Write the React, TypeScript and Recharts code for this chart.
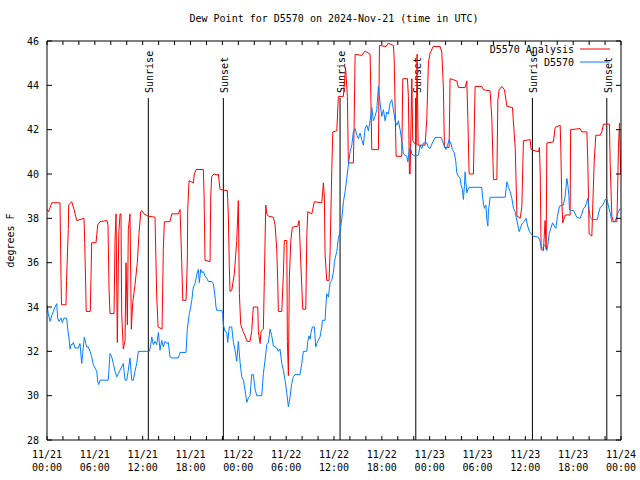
import React from 'react';
import { LineChart, Line, XAxis, YAxis, ReferenceLine, Legend } from 'recharts';

document.body.style.margin = '0';

const FONT = '"DejaVu Sans Mono", monospace';

const title = 'Dew Point for D5570 on 2024-Nov-21 (time in UTC)';
const yTitle = 'degrees F';
const analysisName = 'D5570 Analysis';
const stationName = 'D5570';

// x is hours since 2024-11-21 00:00 UTC
const tickHours = [0, 6, 12, 18, 24, 30, 36, 42, 48, 54, 60, 66, 72];
const tickDates = ['11/21', '11/21', '11/21', '11/21', '11/22', '11/22', '11/22', '11/22', '11/23', '11/23', '11/23', '11/23', '11/24'];
const tickTimes = ['00:00', '06:00', '12:00', '18:00', '00:00', '06:00', '12:00', '18:00', '00:00', '06:00', '12:00', '18:00', '00:00'];
const minorTickHours = [0, 2, 4, 6, 8, 10, 12, 14, 16, 18, 20, 22, 24, 26, 28, 30, 32, 34, 36, 38, 40, 42, 44, 46, 48, 50, 52, 54, 56, 58, 60, 62, 64, 66, 68, 70, 72];
const yTicks = [28, 30, 32, 34, 36, 38, 40, 42, 44, 46];

const sunNames = ['Sunrise', 'Sunset', 'Sunrise', 'Sunset', 'Sunrise', 'Sunset'];
const sunHours = [12.71, 22.12, 36.76, 46.26, 60.89, 70.22];

// [hour, dew point F]
const analysisSeries: [number, number][] = [
  [0, 38.4], [0.2, 38.3], [0.6, 38.7], [1.63, 38.7], [1.76, 35.3], [1.82, 34.1], [2.38, 34.1], [2.45, 35.2], [2.67, 37.5], [2.72, 38.6],
  [3.1, 38.75], [3.39, 38.4], [3.73, 37.9], [4.64, 38.0], [4.73, 36.9], [4.86, 34.85], [4.92, 33.8], [5.43, 33.8], [5.61, 36.9], [6.15, 36.9],
  [6.36, 37.7], [6.65, 37.85], [7.53, 37.9], [7.65, 37.7], [7.78, 34.85], [7.9, 33.7], [8.41, 33.7], [8.53, 37.0], [8.66, 38.2], [8.82, 32.4],
  [9.0, 37.3], [9.16, 38.2], [9.28, 38.2], [9.37, 33.7], [9.57, 32.1], [9.79, 32.5], [9.91, 36.0], [10.08, 33.2], [10.2, 37.5], [10.41, 38.2],
  [10.58, 33.0], [10.75, 34.2], [11.04, 35.0], [11.33, 36.0], [11.54, 37.3], [11.76, 38.3], [11.92, 38.35], [12.17, 38.2], [12.71, 38.1], [13.55, 38.05],
  [13.76, 34.5], [13.93, 33.1], [14.43, 33.0], [14.59, 36.6], [14.72, 37.85], [15.43, 37.85], [15.65, 38.2], [16.47, 38.2], [16.69, 38.4], [16.9, 36.0],
  [17.03, 34.3], [17.44, 34.3], [17.6, 36.0], [17.65, 38.4], [17.82, 39.7], [18.36, 39.6], [18.48, 40.0], [18.7, 40.2], [19.61, 40.2], [19.7, 39.1],
  [19.82, 36.1], [20.45, 36.05], [20.54, 39.0], [20.66, 39.9], [20.95, 40.0], [21.37, 39.95], [21.49, 40.0], [21.71, 39.3], [22.62, 39.25], [22.75, 38.1],
  [22.87, 35.8], [22.96, 34.7], [23.17, 34.75], [23.5, 35.5], [23.8, 37.0], [24.0, 38.8], [24.13, 34.6], [24.3, 33.2], [24.6, 32.9], [24.84, 32.7],
  [25.1, 32.45], [25.47, 32.45], [25.68, 32.9], [25.88, 34.0], [26.44, 34.0], [26.51, 32.9], [26.73, 32.35], [26.85, 32.9], [27.14, 33.0], [27.26, 35.2],
  [27.44, 38.6], [27.57, 38.2], [27.77, 38.1], [28.39, 38.05], [28.61, 37.7], [28.82, 36.6], [28.95, 35.05], [29.02, 33.8], [29.45, 33.8], [29.65, 35.5],
  [29.77, 37.0], [30.08, 37.0], [30.15, 32.45], [30.28, 30.9], [30.4, 35.3], [30.58, 37.0], [30.78, 37.6], [31.46, 37.65], [31.62, 37.9], [31.96, 34.9],
  [32.08, 33.9], [32.46, 33.9], [32.59, 37.2], [32.71, 38.3], [33.21, 38.2], [33.54, 38.75], [34.47, 38.7], [34.67, 39.6], [34.79, 39.0], [34.88, 36.4],
  [35.09, 35.2], [35.38, 35.2], [35.51, 36.5], [35.72, 40.2], [35.85, 41.9], [36.35, 41.95], [36.55, 43.5], [37.18, 43.5], [37.26, 43.9], [37.45, 44.8],
  [37.68, 43.5], [37.8, 40.5], [38.43, 40.5], [38.52, 42.1], [38.65, 45.4], [39.49, 45.35], [39.9, 45.55], [40.53, 45.4], [40.74, 41.1], [41.57, 41.1],
  [41.7, 45.8], [42.54, 45.75], [42.79, 45.9], [43.45, 45.8], [43.54, 45.3], [43.79, 40.8], [44.5, 40.8], [44.63, 44.3], [45.21, 44.3], [45.33, 43.5],
  [45.46, 40.0], [45.55, 40.0], [45.76, 44.3], [45.88, 41.5], [46.3, 41.3], [46.42, 45.4], [46.55, 41.3], [47.43, 41.3], [47.64, 42.5], [47.84, 45.0],
  [48.05, 45.45], [48.43, 45.75], [49.31, 45.75], [49.52, 45.5], [49.72, 43.9], [49.85, 41.2], [50.44, 41.2], [50.56, 44.3], [51.4, 44.2], [51.61, 43.9],
  [52.45, 43.9], [52.66, 44.2], [52.79, 42.5], [52.95, 40.0], [53.49, 40.0], [53.7, 43.95], [54.54, 43.95], [54.75, 43.8], [55.58, 43.75], [55.8, 42.5],
  [56.0, 39.75], [56.43, 39.75], [56.55, 43.3], [56.71, 43.8], [57.05, 43.95], [57.38, 43.8], [57.69, 43.05], [58.39, 43.0], [58.51, 42.3], [58.73, 41.2],
  [58.95, 38.1], [59.35, 38.0], [59.56, 38.5], [59.76, 41.5], [60.6, 41.55], [60.73, 41.1], [61.64, 41.0], [61.77, 41.2], [61.86, 40.1], [61.98, 36.6],
  [62.27, 36.55], [62.48, 37.9], [62.61, 36.6], [62.7, 41.4], [63.53, 41.45], [63.74, 42.1], [64.37, 42.2], [64.45, 41.2], [64.57, 38.8], [64.7, 37.8],
  [64.99, 38.15], [65.62, 38.15], [65.68, 42.0], [66.87, 42.05], [67.08, 41.9], [67.72, 41.9], [67.84, 40.5], [68.0, 37.3], [68.34, 37.2], [68.63, 40.5],
  [68.84, 41.75], [69.39, 41.75], [69.6, 41.9], [69.8, 42.25], [70.55, 42.25], [70.64, 40.5], [70.85, 38.1], [71.05, 37.85], [71.48, 37.85], [71.56, 39.0],
  [71.68, 41.2], [71.81, 42.3], [71.96, 40.0],
];

const stationSeries: [number, number][] = [
  [0, 34.1], [0.16, 33.7], [0.38, 33.35], [0.59, 33.6], [0.79, 33.8], [1.0, 34.0], [1.22, 34.15], [1.34, 33.5], [1.51, 33.35], [1.76, 33.5],
  [1.92, 33.3], [2.13, 33.5], [2.47, 33.5], [2.6, 33.0], [2.76, 32.6], [2.89, 32.1], [3.01, 32.3], [3.17, 32.3], [3.3, 32.4], [3.51, 32.15],
  [3.93, 32.15], [4.14, 32.35], [4.35, 31.45], [4.48, 31.9], [4.68, 32.65], [4.86, 32.35], [4.98, 32.2], [5.18, 32.2], [5.4, 32.0], [5.61, 31.75],
  [5.81, 31.4], [6.02, 31.25], [6.24, 31.1], [6.36, 30.65], [6.49, 30.5], [6.65, 30.7], [7.69, 30.7], [7.9, 31.9], [8.12, 31.75], [8.32, 31.45],
  [8.53, 31.1], [8.75, 30.85], [9.16, 31.15], [9.57, 31.45], [9.79, 30.7], [10.0, 30.7], [10.2, 31.15], [10.41, 31.7], [10.63, 30.7], [10.83, 30.7],
  [11.04, 31.1], [11.25, 31.45], [11.46, 32.0], [12.84, 32.0], [13.01, 32.3], [13.14, 32.65], [13.34, 32.3], [13.55, 32.45], [13.76, 32.3], [13.97, 32.85],
  [14.18, 32.05], [14.39, 32.5], [14.59, 32.2], [14.81, 32.45], [15.02, 32.35], [15.22, 32.4], [15.43, 31.75], [15.65, 31.7], [16.47, 31.7], [16.69, 31.95],
  [17.44, 31.95], [17.6, 33.0], [17.85, 33.7], [18.03, 34.0], [18.16, 34.3], [18.36, 34.9], [18.57, 35.05], [18.78, 35.45], [18.98, 35.7], [19.11, 35.1],
  [19.28, 35.7], [19.41, 35.55], [19.61, 35.6], [19.82, 35.4], [20.04, 35.3], [20.24, 35.15], [20.66, 35.15], [20.87, 35.05], [21.08, 34.45], [21.2, 34.0],
  [21.29, 33.85], [21.92, 33.85], [22.04, 33.7], [22.12, 33.2], [22.33, 32.9], [22.55, 32.85], [22.67, 32.4], [22.87, 33.1], [23.17, 33.1], [23.38, 32.4],
  [23.59, 32.05], [23.8, 31.55], [24.0, 32.45], [24.22, 31.5], [24.43, 30.85], [24.63, 30.7], [24.84, 30.25], [25.06, 29.7], [25.26, 29.9], [25.47, 30.0],
  [25.68, 30.95], [25.88, 30.95], [26.1, 30.3], [26.31, 30.0], [26.94, 30.0], [27.14, 31.0], [27.35, 31.6], [27.57, 32.3], [27.77, 32.4], [27.98, 33.0],
  [28.19, 32.7], [28.39, 32.25], [28.61, 32.2], [28.82, 32.15], [29.02, 32.0], [29.23, 32.1], [29.45, 31.45], [29.65, 31.15], [29.86, 30.7], [30.08, 30.1],
  [30.28, 29.5], [30.49, 29.95], [30.7, 30.55], [30.9, 30.85], [31.12, 30.95], [31.74, 30.95], [31.96, 31.45], [32.16, 32.0], [32.59, 32.0], [32.71, 32.45],
  [32.87, 32.7], [33.0, 32.55], [33.12, 32.85], [33.29, 33.1], [33.54, 33.1], [33.71, 32.2], [33.84, 32.35], [34.04, 32.5], [34.25, 32.65], [34.47, 33.1],
  [34.54, 33.4], [34.88, 33.4], [34.97, 34.0], [35.09, 34.6], [35.3, 34.45], [35.51, 35.1], [35.72, 35.2], [35.92, 35.55], [36.05, 36.0], [36.14, 36.2],
  [36.35, 36.5], [36.55, 37.1], [36.76, 37.4], [36.98, 38.0], [37.18, 38.75], [37.39, 39.2], [37.6, 39.8], [37.8, 40.4], [38.02, 41.0], [38.23, 41.3],
  [38.43, 41.9], [38.65, 42.05], [38.86, 41.75], [39.06, 41.6], [39.27, 41.85], [39.49, 41.55], [39.69, 41.3], [39.9, 42.05], [40.11, 42.2], [40.31, 41.95],
  [40.53, 42.4], [40.74, 43.0], [40.94, 42.4], [41.15, 42.6], [41.37, 42.9], [41.57, 43.95], [41.78, 43.2], [41.99, 42.6], [42.2, 42.9], [42.41, 42.4],
  [42.62, 42.8], [42.82, 42.7], [43.04, 43.2], [43.25, 43.35], [43.45, 42.9], [43.66, 42.4], [43.88, 42.2], [44.08, 42.4], [44.29, 42.0], [44.5, 41.5],
  [44.71, 40.9], [44.92, 40.85], [45.13, 40.8], [45.26, 40.55], [45.46, 41.15], [45.63, 41.15], [45.76, 40.9], [45.96, 40.85], [46.17, 40.8], [46.59, 40.85],
  [46.8, 41.3], [47.01, 41.15], [47.21, 41.4], [47.64, 41.4], [47.84, 41.2], [48.05, 41.15], [48.27, 41.35], [48.68, 41.65], [49.44, 41.65], [49.6, 41.5],
  [49.85, 41.25], [50.03, 41.1], [50.28, 41.35], [50.44, 41.55], [50.69, 41.35], [50.85, 41.1], [51.1, 40.95], [51.28, 40.55], [51.4, 40.05], [51.61, 39.9],
  [51.82, 39.8], [51.94, 39.5], [52.11, 39.3], [52.23, 38.85], [52.36, 39.5], [52.45, 40.1], [52.54, 39.65], [52.66, 39.15], [52.79, 39.3], [52.95, 39.4],
  [54.54, 39.4], [54.61, 39.05], [54.75, 38.65], [54.87, 38.45], [55.05, 38.6], [55.17, 37.95], [55.3, 37.65], [55.37, 38.3], [55.58, 38.95], [57.47, 38.95],
  [57.69, 39.65], [57.89, 39.4], [58.1, 39.2], [58.31, 38.9], [58.51, 38.45], [58.73, 38.3], [58.85, 38.05], [59.06, 37.7], [59.23, 37.4], [59.39, 37.55],
  [59.56, 37.75], [59.85, 37.85], [60.1, 38.0], [60.26, 37.7], [60.51, 37.4], [60.94, 37.2], [61.64, 37.15], [61.86, 36.95], [61.98, 36.7], [62.19, 36.65],
  [62.36, 36.8], [62.57, 36.7], [62.7, 36.55], [62.82, 36.8], [62.99, 37.3], [63.2, 37.55], [63.41, 37.8], [63.62, 37.65], [63.83, 37.55], [64.03, 38.1],
  [64.28, 38.55], [64.78, 38.6], [64.99, 39.0], [65.21, 39.8], [65.33, 39.5], [65.46, 39.05], [65.53, 38.4], [65.71, 38.35], [66.04, 38.35], [66.25, 38.2],
  [66.46, 38.05], [66.88, 38.0], [67.09, 38.2], [67.29, 38.45], [67.5, 38.5], [67.72, 38.75], [67.84, 38.9], [68.0, 38.4], [68.13, 38.05], [68.34, 37.95],
  [69.05, 37.95], [69.17, 38.2], [69.39, 38.5], [69.6, 38.55], [69.8, 38.65], [70.01, 38.85], [70.26, 38.85], [70.39, 38.6], [70.64, 38.25], [70.85, 37.85],
  [71.27, 37.85], [71.48, 38.1], [71.68, 38.3], [71.9, 38.45],
];

const analysisData = analysisSeries.map(([h, v]) => ({ h, v }));
const stationData = stationSeries.map(([h, v]) => ({ h, v }));

const RED = '#ff0000';
const BLUE = '#0080ff';

const TimeTick = (props: any) => {
  const { x, y, payload } = props;
  const i = tickHours.indexOf(payload.value);
  return (
    <text x={x} y={y} textAnchor="middle" fontFamily={FONT} fontSize={10} fill="#000">
      <tspan x={x} dy={10}>{tickDates[i]}</tspan>
      <tspan x={x} dy={13}>{tickTimes[i]}</tspan>
    </text>
  );
};

// inward tick marks only, no text
const NoLabel = () => <g />;

const YTitle = (props: any) => {
  const vb = props.viewBox || { x: 0, y: 41, height: 399 };
  const x = vb.x + 14;
  const y = vb.y + vb.height / 2;
  return (
    <text x={x} y={y} transform={`rotate(-90 ${x} ${y})`} textAnchor="middle" fontFamily={FONT} fontSize={10} fill="#000">
      {yTitle}
    </text>
  );
};

const SunLabel = (props: any) => {
  const vb = props.viewBox;
  if (!vb) return null;
  const x = vb.x + 5;
  const y = vb.y - 5;
  return (
    <text x={x} y={y} transform={`rotate(-90 ${x} ${y})`} fontFamily={FONT} fontSize={10} fill="#000">
      {props.sunText}
    </text>
  );
};

const renderLegend = () => (
  <svg width={150} height={30} style={{ display: 'block' }}>
    <text x={94} y={10.5} textAnchor="end" fontFamily={FONT} fontSize={10} fill="#000">{analysisName}</text>
    <line x1={100} x2={130} y1={7} y2={7} stroke={RED} />
    <text x={94} y={23.5} textAnchor="end" fontFamily={FONT} fontSize={10} fill="#000">{stationName}</text>
    <line x1={100} x2={130} y1={20} y2={20} stroke={BLUE} />
  </svg>
);

const tickFont = { fontFamily: FONT, fontSize: 10, fill: '#000' };

export default function App() {
  return (
    <div style={{ position: 'relative', width: 640, height: 480, background: '#fff' }}>
      <LineChart width={640} height={480} margin={{ top: 41, right: 19, bottom: 0, left: 0 }}>
        <XAxis
          xAxisId="b"
          type="number"
          dataKey="h"
          domain={[0, 72]}
          allowDataOverflow
          ticks={tickHours}
          tick={<TimeTick />}
          tickLine={false}
          axisLine={{ stroke: '#000' }}
          height={40}
          interval={0}
        />
        <XAxis
          xAxisId="bm"
          type="number"
          dataKey="h"
          domain={[0, 72]}
          allowDataOverflow
          ticks={minorTickHours}
          tick={NoLabel}
          tickSize={4}
          tickLine={{ stroke: '#000' }}
          axisLine={false}
          mirror
          interval={0}
        />
        <XAxis
          xAxisId="t"
          orientation="top"
          type="number"
          dataKey="h"
          domain={[0, 72]}
          allowDataOverflow
          ticks={minorTickHours}
          tick={NoLabel}
          tickSize={4}
          tickLine={{ stroke: '#000' }}
          axisLine={{ stroke: '#000' }}
          mirror
          interval={0}
        />
        <YAxis
          yAxisId="l"
          type="number"
          domain={[28, 46]}
          allowDataOverflow
          ticks={yTicks}
          tick={tickFont}
          tickLine={false}
          axisLine={{ stroke: '#000' }}
          width={47}
          interval={0}
          label={<YTitle />}
        />
        <YAxis
          yAxisId="lm"
          type="number"
          domain={[28, 46]}
          allowDataOverflow
          ticks={yTicks}
          tick={NoLabel}
          tickSize={5}
          tickLine={{ stroke: '#000' }}
          axisLine={false}
          mirror
          interval={0}
        />
        <YAxis
          yAxisId="r"
          orientation="right"
          type="number"
          domain={[28, 46]}
          allowDataOverflow
          ticks={yTicks}
          tick={NoLabel}
          tickSize={5}
          tickLine={{ stroke: '#000' }}
          axisLine={{ stroke: '#000' }}
          mirror
          interval={0}
        />
        {sunHours.map((h, i) => (
          <ReferenceLine
            key={i}
            xAxisId="b"
            yAxisId="l"
            segment={[{ x: h, y: 28 }, { x: h, y: 43.43 }]}
            stroke="#000"
            strokeWidth={1}
            label={<SunLabel sunText={sunNames[i]} />}
          />
        ))}
        <Line
          xAxisId="b"
          yAxisId="l"
          data={analysisData}
          dataKey="v"
          type="linear"
          stroke={RED}
          strokeWidth={1}
          dot={false}
          isAnimationActive={false}
        />
        <Line
          xAxisId="b"
          yAxisId="l"
          data={stationData}
          dataKey="v"
          type="linear"
          stroke={BLUE}
          strokeWidth={1}
          dot={false}
          isAnimationActive={false}
        />
        <Legend
          layout="horizontal"
          align="center"
          verticalAlign="middle"
          content={renderLegend}
          wrapperStyle={{ left: 480, top: 42, width: 150, height: 30 }}
        />
      </LineChart>
      <div
        style={{
          position: 'absolute',
          top: 13,
          left: 47,
          width: 574,
          textAlign: 'center',
          fontFamily: FONT,
          fontSize: 10,
          lineHeight: '12px',
          color: '#000',
        }}
      >
        {title}
      </div>
    </div>
  );
}
